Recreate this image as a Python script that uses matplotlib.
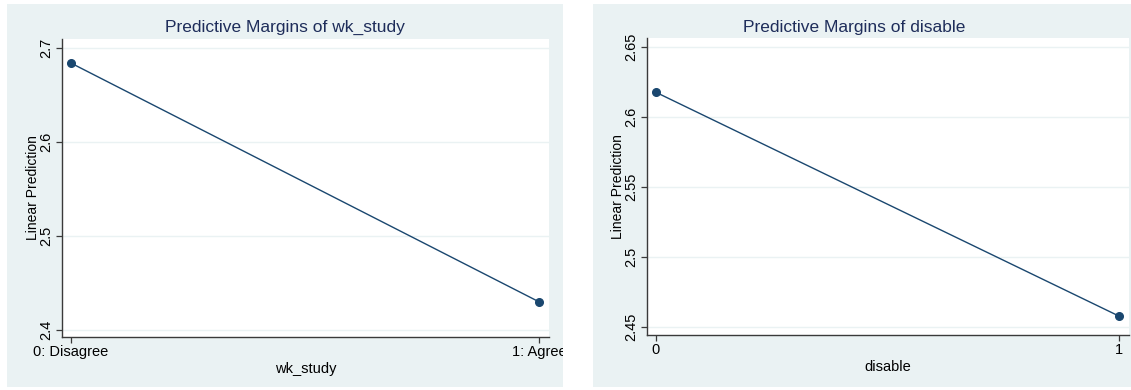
import matplotlib
matplotlib.use("Agg")
import matplotlib.pyplot as plt
from matplotlib.patches import Rectangle
from matplotlib.transforms import Bbox

plt.rcParams['font.family'] = ['Liberation Sans', 'DejaVu Sans']

W, H = 1131, 390

# Data
left_title = "Predictive Margins of wk_study"
left_xlabel = "wk_study"
left_cats = ["0: Disagree", "1: Agree"]
left_x = [0, 1]
left_y = [2.6837, 2.4300]
left_yticks = [2.4, 2.5, 2.6, 2.7]
left_yticklabels = ["2.4", "2.5", "2.6", "2.7"]

right_title = "Predictive Margins of disable"
right_xlabel = "disable"
right_cats = ["0", "1"]
right_x = [0, 1]
right_y = [2.6174, 2.4576]
right_yticks = [2.45, 2.5, 2.55, 2.6, 2.65]
right_yticklabels = ["2.45", "2.5", "2.55", "2.6", "2.65"]

ylabel = "Linear Prediction"

BG = '#EAF2F3'
LINE = '#1A476F'
TITLE_C = '#1E2D5A'
AXC = '#3a3a3a'

fig = plt.figure(figsize=(W/100, H/100), dpi=100)
fig.patch.set_facecolor('white')

def px(x0, y0, x1, y1):
    return [x0/W, 1 - y1/H, (x1-x0)/W, (y1-y0)/H]

# panel backgrounds
for (a, b, c, d) in [(7, 4, 563, 387), (593, 4, 1131, 387)]:
    fig.patches.append(Rectangle((a/W, 1-d/H), (c-a)/W, (d-b)/H,
                                 transform=fig.transFigure, facecolor=BG,
                                 edgecolor='none', zorder=-5))

def panel(rect, xs, ys, cats, yticks, yticklabels, ylim, xlim, title, tx, xlabel, clipx):
    ax = fig.add_axes(px(*rect))
    ax.set_zorder(1)
    ax.set_facecolor('white')
    ax.plot(xs, ys, color=LINE, lw=1.0, marker='o', ms=5.5, mfc=LINE, mec=LINE, zorder=3)
    ax.set_xlim(*xlim)
    ax.set_ylim(*ylim)
    ax.set_yticks(yticks)
    ax.set_yticklabels(yticklabels, rotation=90, va='center', fontsize=10.5, color='black')
    ax.set_xticks(xs)
    ax.set_xticklabels(cats, fontsize=10.5, color='black')
    ax.yaxis.grid(True, color=BG, lw=1.0)
    ax.set_axisbelow(True)
    for s in ['top', 'right']:
        ax.spines[s].set_visible(False)
    for s in ['left', 'bottom']:
        ax.spines[s].set_color(AXC)
        ax.spines[s].set_linewidth(1.0)
    ax.tick_params(axis='both', direction='out', length=4, width=0.9, color=AXC, pad=2)
    ax.set_xlabel(xlabel, fontsize=10.5, labelpad=2)
    ax.set_ylabel(ylabel, fontsize=10, labelpad=0)
    fig.text(tx/W, 1 - 27.5/H, title, ha='center', va='center', fontsize=12.5, color=TITLE_C)
    if clipx is not None:
        bb = Bbox.from_extents(0, 0, clipx, H)
        for t in ax.xaxis.get_major_ticks():
            t.label1.set_clip_box(bb)
            t.label1.set_clip_on(True)
    return ax

panel((62, 39, 549, 337), left_x, left_y, left_cats, left_yticks, left_yticklabels,
      (2.3926, 2.7093), (-0.0192, 1.0214), left_title, 285, left_xlabel, 563)
panel((647, 38, 1129, 335), right_x, right_y, right_cats, right_yticks, right_yticklabels,
      (2.4441, 2.6562), (-0.0194, 1.0216), right_title, 854, right_xlabel, None)

fig.savefig('out.png', dpi=100, facecolor='white')
